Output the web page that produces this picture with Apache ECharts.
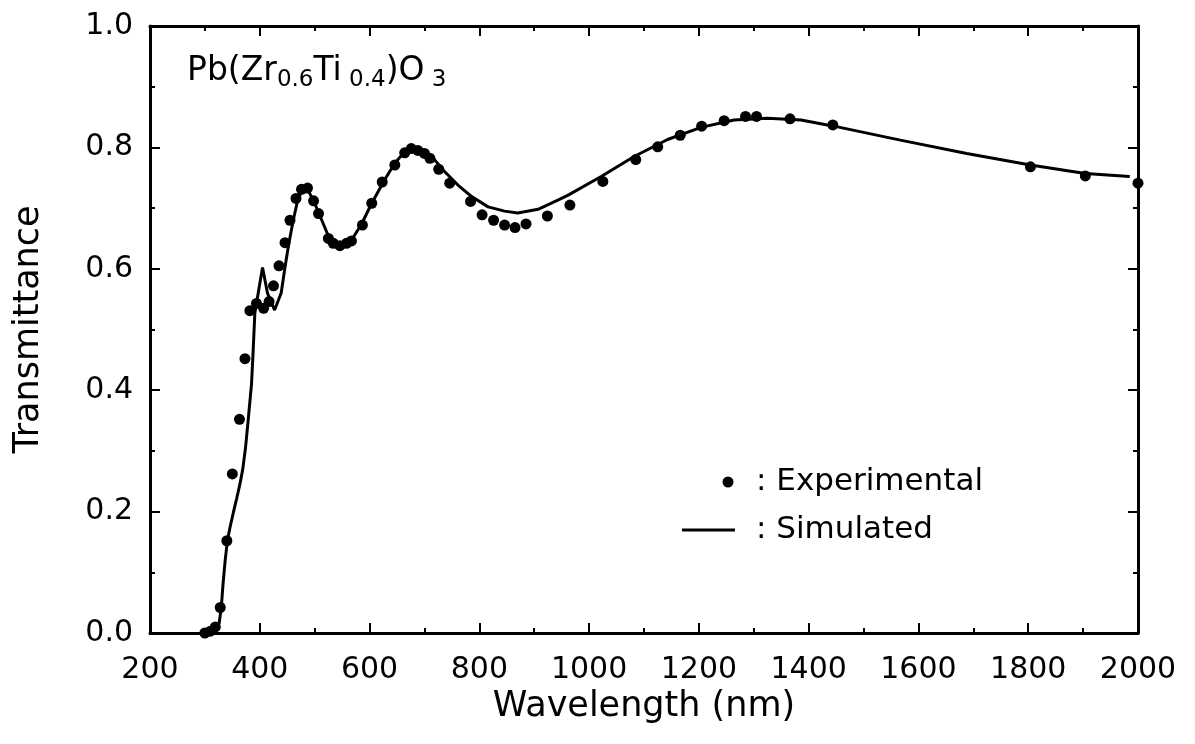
<!DOCTYPE html>
<html>
<head>
<meta charset="utf-8">
<title>Pb(Zr0.6Ti0.4)O3 transmittance</title>
<script src="https://cdn.jsdelivr.net/npm/echarts@6/dist/echarts.min.js"></script>
<style>
  html, body { margin: 0; padding: 0; background: #fff; }
  #chart { width: 1195px; height: 744px; }
</style>
</head>
<body>
<div id="chart"></div>
<script>
// Measured transmittance of the film: wavelength (nm) and transmittance
const expWavelength = [
  300, 310, 319, 328, 340, 350, 363, 373, 382, 394, 407, 417, 425, 435, 446, 455,
  466, 476, 487, 498, 507, 525, 534, 546, 558, 567, 587, 604, 623, 646, 664, 676,
  688, 700, 710, 726, 746, 784, 805, 826, 846, 865, 885, 924, 965, 1025, 1085, 1125,
  1166, 1205, 1246, 1285, 1305, 1366, 1444, 1804, 1904, 2000
];
const expTransmittance = [
  0.000, 0.003, 0.010, 0.042, 0.152, 0.262, 0.352, 0.452, 0.531, 0.543, 0.535, 0.546, 0.572, 0.605, 0.643, 0.680,
  0.716, 0.731, 0.733, 0.712, 0.691, 0.650, 0.642, 0.638, 0.642, 0.646, 0.672, 0.708, 0.743, 0.771, 0.791, 0.798,
  0.795, 0.790, 0.782, 0.764, 0.741, 0.711, 0.689, 0.680, 0.672, 0.668, 0.674, 0.687, 0.705, 0.744, 0.780, 0.801,
  0.820, 0.835, 0.844, 0.851, 0.851, 0.847, 0.837, 0.768, 0.753, 0.741
];

// Simulated transmittance curve
const simWavelength = [
  300, 310, 318, 326, 330, 333, 337, 341, 346, 352, 358, 364, 369, 374, 379, 385,
  388, 391, 405, 414, 427, 439, 446, 453, 461, 469, 476, 482, 490, 500, 513, 525,
  536, 546, 557, 567, 585, 604, 627, 646, 664, 680, 698, 716, 737, 761, 786, 816,
  846, 870, 907, 943, 961, 1022, 1082, 1143, 1204, 1264, 1325, 1386, 1446, 1567, 1688, 1804,
  1904, 1985
];
const simTransmittance = [
  0.000, 0.001, 0.003, 0.016, 0.043, 0.080, 0.120, 0.152, 0.175, 0.199, 0.222, 0.246, 0.270, 0.305, 0.352, 0.411,
  0.466, 0.527, 0.602, 0.560, 0.532, 0.560, 0.603, 0.642, 0.680, 0.713, 0.727, 0.731, 0.726, 0.708, 0.680, 0.654,
  0.643, 0.639, 0.641, 0.647, 0.673, 0.708, 0.746, 0.774, 0.793, 0.800, 0.796, 0.782, 0.760, 0.738, 0.719, 0.702,
  0.695, 0.692, 0.698, 0.713, 0.721, 0.752, 0.785, 0.813, 0.833, 0.845, 0.848, 0.845, 0.835, 0.812, 0.790, 0.771,
  0.757, 0.752
];

// Axis ranges and labels
const xRange = [200, 2000];
const xStep = 200;
const yRange = [0, 1.0];
const yStep = 0.2;
const xTitle = 'Wavelength (nm)';
const yTitle = 'Transmittance';
const legendLabels = [': Experimental', ': Simulated'];

const FONT = 'DejaVu Sans';
const INK = '#000';

const zip = (xs, ys) => xs.map((x, i) => [x, ys[i]]);

function frameAxis(extra) {
  return Object.assign({
    type: 'value',
    splitLine: { show: false },
    axisLine: { show: true, onZero: false, lineStyle: { color: INK, width: 3 } },
    axisTick: { show: true, inside: true, length: 10, lineStyle: { color: INK, width: 2 } },
    minorTick: { show: true, splitNumber: 2, length: 5, lineStyle: { color: INK, width: 2 } },
    axisLabel: { show: false }
  }, extra);
}

const chart = echarts.init(document.getElementById('chart'), null, { renderer: 'canvas' });

chart.setOption({
  backgroundColor: '#fff',
  animation: false,
  grid: { left: 150, right: 57, top: 26, bottom: 111, containLabel: false },
  xAxis: [
    frameAxis({
      position: 'bottom', min: xRange[0], max: xRange[1], interval: xStep,
      axisLabel: {
        show: true, color: INK, fontSize: 30, fontFamily: FONT, margin: 22,
        formatter: v => String(v)
      },
      name: xTitle, nameLocation: 'middle', nameGap: 46,
      nameTextStyle: { color: INK, fontSize: 35, fontFamily: FONT }
    }),
    frameAxis({ position: 'top', min: xRange[0], max: xRange[1], interval: xStep })
  ],
  yAxis: [
    frameAxis({
      position: 'left', min: yRange[0], max: yRange[1], interval: yStep,
      axisLabel: {
        show: true, color: INK, fontSize: 30, fontFamily: FONT, margin: 17,
        formatter: v => v.toFixed(1)
      },
      name: yTitle, nameLocation: 'middle', nameGap: 104,
      nameTextStyle: { color: INK, fontSize: 35, fontFamily: FONT }
    }),
    frameAxis({ position: 'right', min: yRange[0], max: yRange[1], interval: yStep })
  ],
  series: [
    {
      name: 'Simulated',
      type: 'line',
      xAxisIndex: 0, yAxisIndex: 0,
      data: zip(simWavelength, simTransmittance),
      showSymbol: false,
      smooth: false,
      lineStyle: { color: INK, width: 3 },
      z: 2
    },
    {
      name: 'Experimental',
      type: 'scatter',
      xAxisIndex: 0, yAxisIndex: 0,
      data: zip(expWavelength, expTransmittance),
      symbol: 'circle',
      symbolSize: 11,
      itemStyle: { color: INK, opacity: 1 },
      z: 3
    }
  ],
  graphic: [
    {
      // composition label with subscripts
      type: 'text',
      left: 187, top: 55,
      style: {
        text: '{m|Pb(Zr}{s|0.6}{m|Ti}{s| 0.4}{m|)O}{s| 3}',
        fill: INK,
        rich: {
          m: { fontSize: 33, fontFamily: FONT, lineHeight: 40, fill: INK },
          s: { fontSize: 23, fontFamily: FONT, lineHeight: 22, verticalAlign: 'bottom', fill: INK }
        }
      }
    },
    { type: 'circle', shape: { cx: 728, cy: 482, r: 5.5 }, style: { fill: INK } },
    { type: 'line', shape: { x1: 682, y1: 530, x2: 735, y2: 530 }, style: { stroke: INK, lineWidth: 3 } },
    {
      type: 'text', left: 756, top: 482 - 20,
      style: { text: legendLabels[0], fill: INK, fontSize: 31, fontFamily: FONT, lineHeight: 40 }
    },
    {
      type: 'text', left: 756, top: 530 - 20,
      style: { text: legendLabels[1], fill: INK, fontSize: 31, fontFamily: FONT, lineHeight: 40 }
    }
  ]
});
</script>
</body>
</html>
